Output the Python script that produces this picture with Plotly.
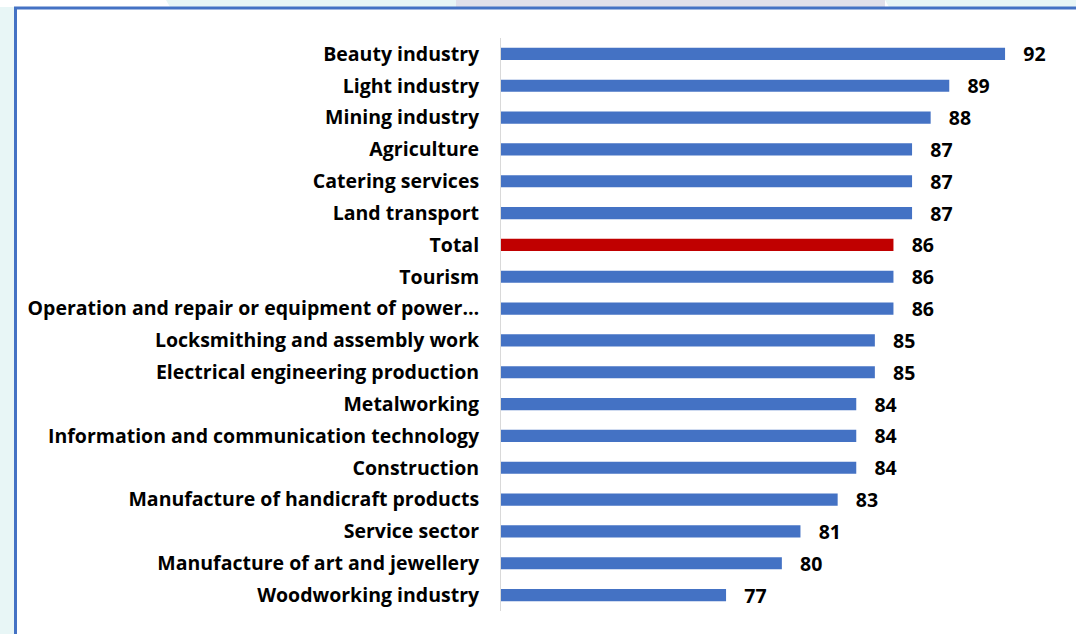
import plotly.graph_objects as go

categories = [
    "Beauty industry", "Light industry", "Mining industry", "Agriculture",
    "Catering services", "Land transport", "Total", "Tourism",
    "Operation and repair or equipment of power…",
    "Locksmithing and assembly work", "Electrical engineering production",
    "Metalworking", "Information and communication technology",
    "Construction", "Manufacture of handicraft products", "Service sector",
    "Manufacture of art and jewellery", "Woodworking industry",
]
values = [92, 89, 88, 87, 87, 87, 86, 86, 86, 85, 85, 84, 84, 84, 83, 81, 80, 77]

BLUE = "#4472C4"
RED = "#C00000"
colors = [RED if c == "Total" else BLUE for c in categories]

FONT = "Open Sans"
FS = 19.5

W, H = 1076, 634

def px(x):
    return x / W

def py(y):
    return 1 - y / H

fig = go.Figure(go.Bar(
    y=categories,
    x=values,
    orientation="h",
    marker=dict(color=colors, line=dict(width=0)),
    width=0.38,
    text=values,
    texttemplate="\u00a0\u00a0\u00a0%{x}",
    textposition="outside",
    constraintext="none",
    cliponaxis=False,
    textfont=dict(family=FONT, size=FS, color="#000000", weight="bold"),
    hoverinfo="skip",
))

shapes = [
    dict(type="rect", xref="paper", yref="paper", x0=px(0), x1=px(15), y0=py(634), y1=py(7),
         fillcolor="#E8F6F6", line=dict(width=0), layer="below"),
    dict(type="path", xref="paper", yref="paper",
         path=f"M {px(170)} {py(7)} L {px(166)} {py(0)} L {px(456)} {py(0)} L {px(456)} {py(7)} Z",
         fillcolor="#E8F6F6", line=dict(width=0), layer="below"),
    dict(type="rect", xref="paper", yref="paper", x0=px(456), x1=px(885), y0=py(7), y1=py(0),
         fillcolor="#E0E0EA", line=dict(width=0), layer="below"),
    dict(type="path", xref="paper", yref="paper",
         path=f"M {px(885)} {py(0)} L {px(889)} {py(7)} L {px(1076)} {py(7)} L {px(1076)} {py(0)} Z",
         fillcolor="#E8F6F6", line=dict(width=0), layer="below"),
    dict(type="line", xref="paper", yref="paper", x0=px(14), x1=px(1076), y0=py(8), y1=py(8),
         line=dict(color=BLUE, width=3)),
    dict(type="line", xref="paper", yref="paper", x0=px(15.5), x1=px(15.5), y0=py(7), y1=py(634),
         line=dict(color=BLUE, width=3)),
]

fig.update_layout(
    width=W, height=H,
    margin=dict(l=0, r=0, t=0, b=0),
    paper_bgcolor="#FFFFFF",
    plot_bgcolor="#FFFFFF",
    showlegend=False,
    shapes=shapes,
    xaxis=dict(
        domain=[px(501), px(1059)],
        range=[64.9, 94.9],
        showgrid=False, zeroline=False, showticklabels=False, ticks="",
        showline=False, fixedrange=True,
    ),
    yaxis=dict(
        domain=[py(611), py(38)],
        autorange="reversed",
        showgrid=False, zeroline=False,
        showline=True, linecolor="#D9D9D9", linewidth=1,
        ticks="", ticklabelstandoff=17,
        tickfont=dict(family=FONT, size=FS, color="#000000", weight="bold"),
        fixedrange=True,
    ),
)

fig.write_html(
    "out.html",
    config={"displayModeBar": False},
    post_script="document.body.style.margin='0px';",
)
